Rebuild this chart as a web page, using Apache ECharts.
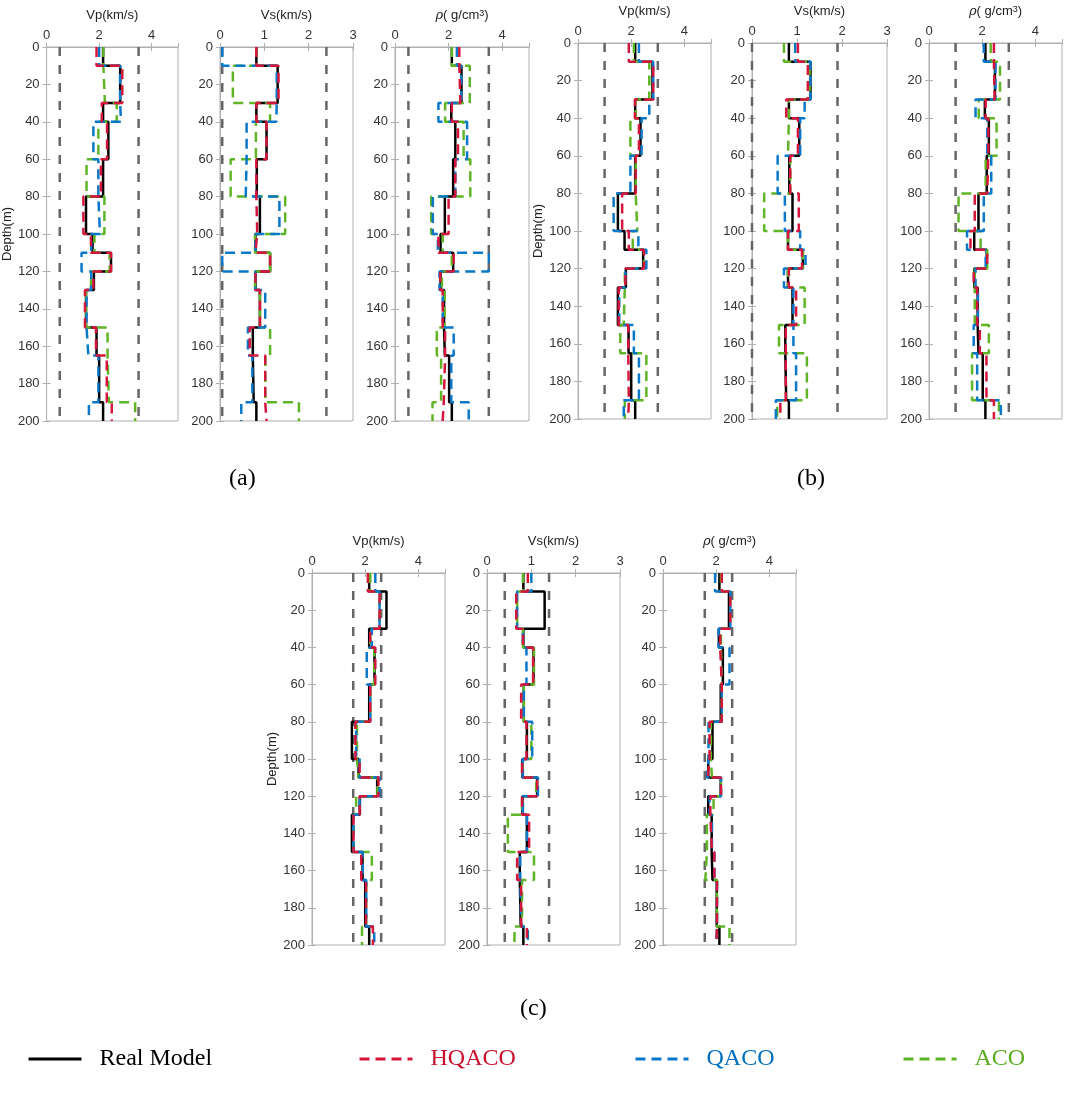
<!DOCTYPE html>
<html><head><meta charset="utf-8">
<script src="https://cdn.jsdelivr.net/npm/echarts/dist/echarts.min.js"></script>
<style>html,body{margin:0;padding:0;background:#fff}#c{width:1065px;height:1100px}</style>
</head><body><div id="c"></div>
<script>
// layer boundaries (m)
const layers = [0,10,30,40,60,80,100,110,120,130,150,165,190,200];
// real model
const vpReal  = [2.15,2.8,2.15,2.35,2.15,1.5,1.75,2.45,1.8,1.5,1.9,2.0,2.15];
const vsReal  = [0.82,1.3,0.82,1.05,0.83,0.9,0.8,1.13,0.8,0.9,0.74,0.76,0.82];
const rhoReal = [2.12,2.48,2.1,2.25,2.17,1.86,1.7,2.17,1.7,1.83,1.86,2.02,2.12];
// (a)
const vpA_HQ  = [1.9,2.88,2.1,2.3,2.07,1.4,1.69,2.45,1.78,1.46,1.88,2.29,2.48];
const vpA_Q   = [2.0,2.8,2.83,1.78,1.97,2.03,1.7,1.33,1.7,1.52,1.59,1.97,1.61];
const vpA_ACO = [2.16,2.22,2.67,1.97,1.52,2.2,1.82,2.4,1.69,1.5,2.32,2.37,3.37];
const vsA_HQ  = [0.82,1.32,0.82,1.05,0.82,0.84,0.8,1.13,0.8,0.9,0.67,1.02,1.05];
const vsA_Q   = [0.05,1.28,1.27,0.6,0.58,1.34,0.8,0.05,0.8,1.02,0.63,0.73,0.48];
const vsA_ACO = [0.82,0.29,1.13,0.81,0.24,1.47,0.79,1.13,0.79,0.9,1.13,1.02,1.78];
const rhoA_HQ  = [2.4,2.44,2.12,2.35,2.25,2.0,1.62,2.19,1.69,1.78,1.87,1.82,1.78];
const rhoA_Q   = [2.31,2.47,1.62,2.69,2.25,1.41,1.6,3.5,1.66,1.78,2.19,2.1,2.75];
const rhoA_ACO = [2.12,2.79,1.87,2.56,2.81,1.35,1.78,2.12,1.75,1.85,1.56,1.72,1.4];
// (b)
const vpB_HQ  = [1.91,2.83,2.14,2.29,2.17,1.66,1.91,2.48,1.78,1.53,1.89,1.91,1.89];
const vpB_Q   = [2.29,2.83,2.68,2.39,1.97,1.34,2.27,2.57,1.78,1.55,2.1,2.29,1.72];
const vpB_ACO = [2.1,2.68,2.17,1.97,2.17,2.23,2.06,2.48,1.76,1.72,1.59,2.57,1.76];
const vsB_HQ  = [1.02,1.24,0.76,1.02,0.85,1.04,0.8,1.11,0.82,0.98,0.75,0.75,0.63];
const vsB_Q   = [0.96,1.3,1.17,1.07,0.57,0.73,1.07,1.19,0.71,0.92,0.92,0.98,0.53];
const vsB_ACO = [0.71,1.28,0.82,0.8,0.85,0.27,0.8,1.13,0.8,1.17,0.6,1.22,0.56];
const rhoB_HQ  = [2.44,2.47,2.13,2.23,2.19,1.72,1.56,2.19,1.68,1.81,1.91,2.16,2.44];
const rhoB_Q   = [2.06,2.5,1.75,2.19,2.34,2.06,1.43,2.13,1.75,1.84,1.68,1.81,2.7];
const rhoB_ACO = [2.32,2.67,1.87,2.54,2.13,1.11,1.94,2.19,1.72,1.72,2.25,1.62,2.63];
// (c)
const vpC_HQ  = [2.1,2.54,2.19,2.38,2.19,1.63,1.79,2.5,1.79,1.56,1.85,2.03,2.29];
const vpC_Q   = [2.38,2.54,2.25,2.06,2.19,1.66,1.79,2.54,1.79,1.56,1.91,2.04,2.34];
const vpC_ACO = [2.19,2.54,2.19,2.34,2.19,1.69,1.75,2.46,1.66,1.56,2.25,2.04,1.88];
const vsC_HQ  = [0.92,0.66,0.81,1.04,0.77,0.89,0.79,1.13,0.79,0.95,0.68,0.77,0.9];
const vsC_Q   = [1.0,0.68,0.81,0.89,0.83,1.02,0.81,1.15,0.81,0.9,0.75,0.77,0.92];
const vsC_ACO = [0.81,0.68,0.81,1.06,0.83,1.0,0.8,1.11,0.79,0.47,1.06,0.79,0.62];
const rhoC_HQ  = [2.21,2.53,2.15,2.21,2.21,1.75,1.68,2.18,1.78,1.84,1.93,2.03,2.0];
const rhoC_Q   = [1.96,2.53,2.09,2.5,2.21,1.71,1.65,2.18,1.75,1.84,1.93,2.03,2.0];
const rhoC_ACO = [2.18,2.53,2.18,2.21,2.21,1.8,1.84,2.18,1.9,1.65,1.59,2.03,2.5];
// search bounds
const vpBoundsA = [0.5,3.5], vsBoundsA = [0.05,2.4], rhoBoundsA = [0.5,3.5];
const vpBoundsB = [1.0,3.0], vsBoundsB = [0.0,1.9], rhoBoundsB = [1.0,3.0];
const vpBoundsC = [1.55,2.6], vsBoundsC = [0.4,1.4], rhoBoundsC = [1.57,2.6];
// tick labels / names
const depthTicks = {min:0, max:200, interval:20};
const vpName = 'Vp(km/s)', vsName = 'Vs(km/s)', rhoName = '{i|ρ}( g/cm{s|3})';
const names = ['Real Model','HQACO','QACO','ACO'];

const C = {real:'#000000', hq:'#d4163c', q:'#0a78c8', aco:'#5fb526', bound:'#666666', axis:'#b0b0b0', text:'#333'};

const panels = [
  {top:47, height:374, cols:[
    {left:45, width:133, max:5, iv:2, name:vpName, real:vpReal, hq:vpA_HQ, q:vpA_Q, aco:vpA_ACO, b:vpBoundsA, depth:true},
    {left:220, width:133, max:3, iv:1, name:vsName, real:vsReal, hq:vsA_HQ, q:vsA_Q, aco:vsA_ACO, b:vsBoundsA},
    {left:395, width:134, max:5, iv:2, name:rhoName, real:rhoReal, hq:rhoA_HQ, q:rhoA_Q, aco:rhoA_ACO, b:rhoBoundsA}]},
  {top:43, height:376, cols:[
    {left:578, width:133, max:5, iv:2, name:vpName, real:vpReal, hq:vpB_HQ, q:vpB_Q, aco:vpB_ACO, b:vpBoundsB, depth:true},
    {left:752, width:135, max:3, iv:1, name:vsName, real:vsReal, hq:vsB_HQ, q:vsB_Q, aco:vsB_ACO, b:vsBoundsB},
    {left:929, width:133, max:5, iv:2, name:rhoName, real:rhoReal, hq:rhoB_HQ, q:rhoB_Q, aco:rhoB_ACO, b:rhoBoundsB}]},
  {top:573, height:372, cols:[
    {left:312, width:133, max:5, iv:2, name:vpName, real:vpReal, hq:vpC_HQ, q:vpC_Q, aco:vpC_ACO, b:vpBoundsC, depth:true},
    {left:487, width:133, max:3, iv:1, name:vsName, real:vsReal, hq:vsC_HQ, q:vsC_Q, aco:vsC_ACO, b:vsBoundsC},
    {left:663, width:133, max:5, iv:2, name:rhoName, real:rhoReal, hq:rhoC_HQ, q:rhoC_Q, aco:rhoC_ACO, b:rhoBoundsC}]}
];

function steps(vals){
  const d = [];
  vals.forEach((v,i)=>{ d.push([v, layers[i]]); d.push([v, layers[i+1]]); });
  return d;
}

const font = 'Liberation Sans, Arial, sans-serif';
const grid = [], xAxis = [], yAxis = [], series = [];
let gi = 0;
panels.forEach(p => p.cols.forEach(c => {
  grid.push({left:c.left, top:p.top, width:c.width, height:p.height, show:true, borderColor:C.axis, borderWidth:1, containLabel:false});
  const xBase = {gridIndex:gi, type:'value', min:0, max:c.max, interval:c.iv,
    axisLine:{show:true, lineStyle:{color:C.axis}}, axisTick:{inside:true, length:4, lineStyle:{color:C.axis}},
    splitLine:{show:false}};
  xAxis.push(Object.assign({}, xBase, {position:'top', name:c.name, nameLocation:'middle', nameGap:25,
    nameTextStyle:{color:'#222', fontSize:13, fontFamily:font,
      rich:{i:{fontStyle:'italic', fontSize:13, fontFamily:'DejaVu Serif, serif', color:'#222'},
            s:{fontSize:9, verticalAlign:'top', lineHeight:10, color:'#222', fontFamily:font}}},
    axisLabel:{color:C.text, fontSize:13, fontFamily:font, margin:5, showMaxLabel:c.max===3}}));
  xAxis.push(Object.assign({}, xBase, {position:'bottom', axisLabel:{show:false}}));
  const yBase = {gridIndex:gi, type:'value', inverse:true, min:depthTicks.min, max:depthTicks.max, interval:depthTicks.interval,
    axisLine:{show:true, lineStyle:{color:C.axis}}, axisTick:{inside:true, length:4, lineStyle:{color:C.axis}},
    splitLine:{show:false}};
  yAxis.push(Object.assign({}, yBase, {position:'left',
    name:c.depth ? 'Depth(m)' : '', nameLocation:'middle', nameGap:29,
    nameTextStyle:{color:'#222', fontSize:13, fontFamily:font},
    axisLabel:{color:C.text, fontSize:13, fontFamily:font, margin:7}}));
  yAxis.push(Object.assign({}, yBase, {position:'right', axisLabel:{show:false}}));
  const ax = {xAxisIndex:2*gi, yAxisIndex:2*gi};
  c.b.forEach(bv => series.push(Object.assign({type:'line', name:'bound', symbol:'none', silent:true,
    data:[[bv,depthTicks.min],[bv,depthTicks.max]], lineStyle:{color:C.bound, width:2.5, type:[9,9]}}, ax)));
  series.push(Object.assign({type:'line', name:names[0], symbol:'none', data:steps(c.real), lineStyle:{color:C.real, width:2.5}, itemStyle:{color:C.real}}, ax));
  series.push(Object.assign({type:'line', name:names[3], symbol:'none', data:steps(c.aco), lineStyle:{color:C.aco, width:2.5, type:[10,6]}, itemStyle:{color:C.aco}}, ax));
  series.push(Object.assign({type:'line', name:names[2], symbol:'none', data:steps(c.q), lineStyle:{color:C.q, width:2.5, type:[10,6]}, itemStyle:{color:C.q}}, ax));
  series.push(Object.assign({type:'line', name:names[1], symbol:'none', data:steps(c.hq), lineStyle:{color:C.hq, width:2.5, type:[10,6]}, itemStyle:{color:C.hq}}, ax));
  gi++;
}));

const serif = 'Liberation Serif, Times New Roman, serif';
function leg(left, name, color){
  return {left:left, top:1047, padding:0, data:[name], itemWidth:53, itemHeight:14, selectedMode:false,
    itemStyle:{opacity:0}, lineStyle:{width:3},
    textStyle:{fontFamily:serif, fontSize:24, color:color, padding:[0,0,0,13]}};
}

const option = {
  backgroundColor:'#fff',
  animation:false,
  grid, xAxis, yAxis, series,
  legend:[leg(27,names[0],'#000'), leg(358,names[1],'#c8102e'), leg(634,names[2],'#0070c0'), leg(902,names[3],'#5aaa1e')],
  graphic:[
    {type:'text', left:229, top:467, style:{text:'(a)', font:'24px '+serif, fill:'#000'}},
    {type:'text', left:797, top:467, style:{text:'(b)', font:'24px '+serif, fill:'#000'}},
    {type:'text', left:520, top:997, style:{text:'(c)', font:'24px '+serif, fill:'#000'}}
  ]
};
const chart = echarts.init(document.getElementById('c'));
chart.setOption(option);
</script></body></html>
